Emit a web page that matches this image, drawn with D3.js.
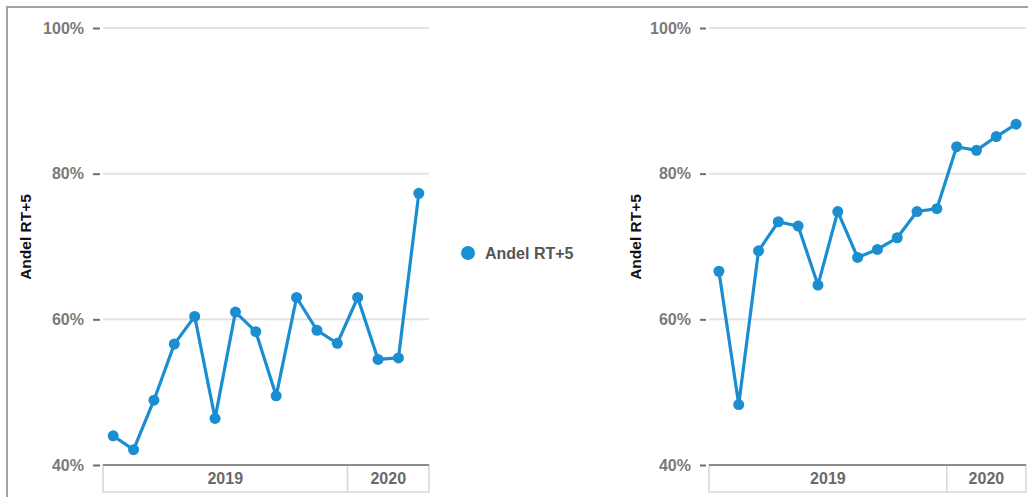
<!DOCTYPE html>
<html>
<head>
<meta charset="utf-8">
<script src="https://cdn.jsdelivr.net/npm/d3@7"></script>
<style>
  html, body { margin: 0; padding: 0; background: #fff; }
  svg { display: block; }
</style>
</head>
<body>
<svg id="chart" width="1028" height="497"></svg>
<script>
// Monthly periods, Jan 2019 – Apr 2020
const periods = ["2019-01","2019-02","2019-03","2019-04","2019-05","2019-06",
                 "2019-07","2019-08","2019-09","2019-10","2019-11","2019-12",
                 "2020-01","2020-02","2020-03","2020-04"];
const years = ["2019", "2020"];
const seriesName = "Andel RT+5";
// Share RT+5 (%), first panel
const valuesA = [44.0, 42.1, 48.9, 56.6, 60.4, 46.4, 61.0, 58.3, 49.5, 63.0,
                 58.5, 56.7, 63.0, 54.5, 54.7, 77.3];
// Share RT+5 (%), second panel
const valuesB = [66.6, 48.3, 69.4, 73.4, 72.8, 64.7, 74.8, 68.5, 69.6, 71.2,
                 74.8, 75.2, 83.7, 83.2, 85.1, 86.8];
const yTicks = [40, 60, 80, 100];

const svg = d3.select("#chart");
const blue = "#1a8ed1";
const fontMain = "'Liberation Sans', Arial, sans-serif";

// outer frame (left + top edges)
svg.append("path")
  .attr("d", "M7,497 L7,7 L1028,7")
  .attr("fill", "none").attr("stroke", "#a3a3a3").attr("stroke-width", 2);

const y = d3.scaleLinear().domain([40, 100]).range([465, 28]);

function panel(values, x0, x1, axisX, tickLen, titleX) {
  const g = svg.append("g");
  const x = d3.scaleBand().domain(periods).range([x0, x1]);

  // gridlines
  g.append("g").selectAll("line").data(yTicks.filter(t => t !== 40)).join("line")
    .attr("x1", x0).attr("x2", x1)
    .attr("y1", d => y(d)).attr("y2", d => y(d))
    .attr("stroke", "#e3e3e3").attr("stroke-width", 2);

  // y axis
  const ax = g.append("g")
    .attr("transform", `translate(${axisX},0)`)
    .call(d3.axisLeft(y).tickValues(yTicks).tickFormat(d => d + "%")
      .tickSize(tickLen).tickPadding(9));
  ax.select(".domain").remove();
  ax.selectAll(".tick line").attr("stroke", "#6e6e6e").attr("stroke-width", 2);
  ax.selectAll(".tick text")
    .attr("fill", "#7a7a7a").attr("font-family", fontMain)
    .attr("font-weight", "bold").attr("font-size", 16);

  // axis title
  g.append("text")
    .attr("transform", `translate(${titleX},237) rotate(-90)`)
    .attr("text-anchor", "middle").attr("dominant-baseline", "central")
    .attr("font-family", fontMain).attr("font-weight", "bold")
    .attr("font-size", 15.5).attr("fill", "#111")
    .text(seriesName);

  // category (year) box
  const boxTop = y(40), boxBottom = 492;
  g.append("rect")
    .attr("x", x0).attr("y", boxTop).attr("width", x1 - x0).attr("height", boxBottom - boxTop)
    .attr("fill", "none").attr("stroke", "#d6d6d6").attr("stroke-width", 1.5);
  years.forEach(yr => {
    const ps = periods.filter(p => p.startsWith(yr));
    const a = x(ps[0]), b = x(ps[ps.length - 1]) + x.bandwidth();
    if (a > x0) {
      g.append("line").attr("x1", a).attr("x2", a)
        .attr("y1", boxTop).attr("y2", boxBottom)
        .attr("stroke", "#d6d6d6").attr("stroke-width", 1.5);
    }
    g.append("text")
      .attr("x", (a + b) / 2).attr("y", 484)
      .attr("text-anchor", "middle")
      .attr("font-family", fontMain).attr("font-weight", "bold")
      .attr("font-size", 16).attr("fill", "#6a6a6a")
      .text(yr);
  });

  // baseline
  g.append("line")
    .attr("x1", x0).attr("x2", x1).attr("y1", y(40)).attr("y2", y(40))
    .attr("stroke", "#8c8c8c").attr("stroke-width", 2);

  // series line + markers
  const cx = d => x(d.p) + x.bandwidth() / 2;
  const pts = periods.map((p, i) => ({ p, v: values[i] }));
  g.append("path").datum(pts)
    .attr("d", d3.line().x(cx).y(d => y(d.v)))
    .attr("fill", "none").attr("stroke", blue).attr("stroke-width", 3.2)
    .attr("stroke-linejoin", "round");
  g.append("g").selectAll("circle").data(pts).join("circle")
    .attr("cx", cx).attr("cy", d => y(d.v)).attr("r", 5.5)
    .attr("fill", blue);
}

panel(valuesA, 103, 429, 100, 7, 25);
panel(valuesB, 709, 1026, 706, 6, 635);

// legend
const lg = svg.append("g").attr("transform", "translate(468,253)");
lg.append("circle").attr("r", 7).attr("fill", "#1792d8");
lg.append("text")
  .attr("x", 17).attr("dominant-baseline", "central")
  .attr("font-family", fontMain).attr("font-weight", "bold")
  .attr("font-size", 16).attr("fill", "#555")
  .text(seriesName);
</script>
</body>
</html>
